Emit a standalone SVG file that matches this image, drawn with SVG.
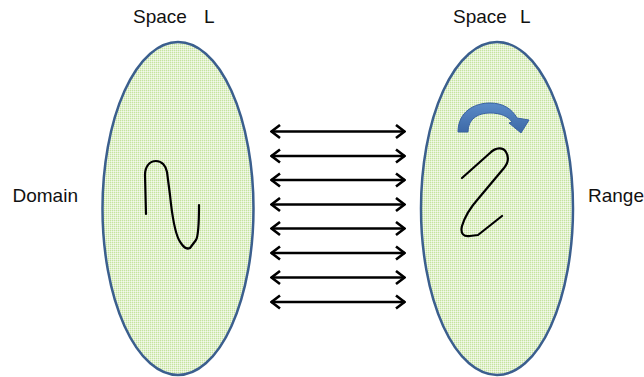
<svg xmlns="http://www.w3.org/2000/svg" width="644" height="377" viewBox="0 0 644 377">
<style>
text{font-family:"Liberation Sans",Arial,sans-serif;font-size:19px;fill:#111}
.sp{fill:url(#chk);stroke:#3b5f8e;stroke-width:2.5}
.sq{fill:none;stroke:#000;stroke-width:2.2;stroke-linecap:round;stroke-linejoin:round}
.ar{stroke:#000;stroke-width:2.5;marker-start:url(#h);marker-end:url(#h)}
</style>
<defs>
<pattern id="chk" width="2" height="2" patternUnits="userSpaceOnUse">
<rect width="2" height="2" fill="#e2f1d0"/>
<rect width="1" height="1" fill="#c6e49e"/>
<rect x="1" y="1" width="1" height="1" fill="#f3f9ea"/>
</pattern>
<marker id="h" viewBox="0 0 12 16" refX="11" refY="8" markerWidth="12" markerHeight="16" markerUnits="userSpaceOnUse" orient="auto-start-reverse">
<path d="M2,1.5 L10.5,8 L2,14.5" fill="none" stroke="#000" stroke-width="2.6" stroke-linejoin="miter"/>
</marker>
<linearGradient id="bl" x1="0" y1="0" x2="0" y2="1">
<stop offset="0" stop-color="#5a8bc8"/>
<stop offset="1" stop-color="#3d68a6"/>
</linearGradient>
</defs>
<g id="left-space">
<ellipse class="sp" cx="178" cy="208.5" rx="75.5" ry="166.5"/>
<path class="sq" d="M146,214 L145,175 C145,166 150,161 156,161 C162,161 166,166 167,172 L170,195 C172,215 174,230 179,240 C183,247 186,250 190,248 L196,240 C199,235 199,220 199,205"/>
</g>
<g id="right-space">
<ellipse class="sp" cx="497" cy="208.5" rx="76" ry="166.5"/>
<path d="M458,132 C458,112 474,103 490,103 C503,103 512,109 517,118 L529,120 L521,133 L509,123 L512,122 C508,116 500,113 490,113 C479,113 468,118 468,132 Z" fill="url(#bl)" stroke="#3a62a0" stroke-width="1"/>
<path class="sq" d="M462,178 L490,153 C496,147 503,147 506,152 C509,157 508,163 504,168 L478,199 C470,208 465,216 462,226 C460,234 464,237 470,236 L478,235 L502,216"/>
</g>
<g id="labels">
<text x="133" y="23">Space</text>
<text x="204" y="23">L</text>
<text x="453" y="23">Space</text>
<text x="520" y="23">L</text>
<text x="12.5" y="202">Domain</text>
<text x="588" y="202" font-size="17.5">Range</text>
</g>
<g id="connectors">
<line class="ar" x1="271" y1="131.5" x2="405" y2="131.5"/>
<line class="ar" x1="271" y1="156" x2="405" y2="156"/>
<line class="ar" x1="271" y1="180" x2="405" y2="180"/>
<line class="ar" x1="271" y1="204.5" x2="405" y2="204.5"/>
<line class="ar" x1="271" y1="228.5" x2="405" y2="228.5"/>
<line class="ar" x1="271" y1="253" x2="405" y2="253"/>
<line class="ar" x1="271" y1="277.5" x2="405" y2="277.5"/>
<line class="ar" x1="271" y1="302" x2="405" y2="302"/>
</g>
</svg>
